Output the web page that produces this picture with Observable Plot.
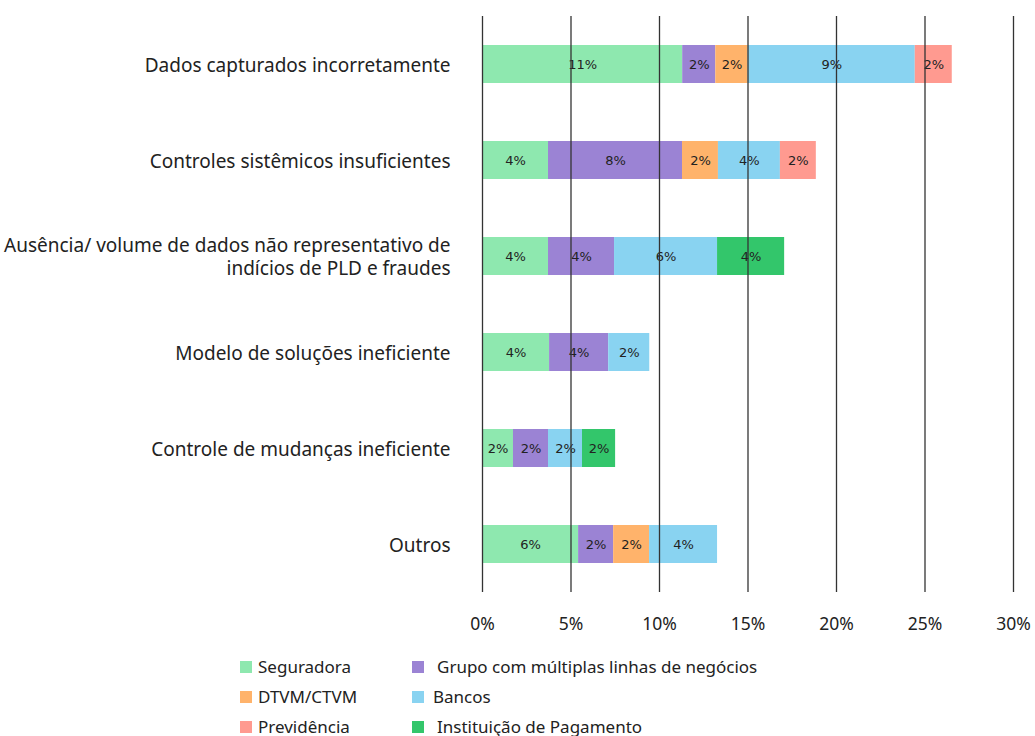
<!DOCTYPE html>
<html><head><meta charset="utf-8">
<script src="https://cdn.jsdelivr.net/npm/d3@7"></script>
<script src="https://cdn.jsdelivr.net/npm/@observablehq/plot@0.6"></script>
<style>
body{margin:0;background:#fff;font-family:"Noto Sans",sans-serif;}
#legend{position:relative;height:96px;width:1035px;}
.item{position:absolute;display:flex;align-items:center;font-size:17px;line-height:22px;color:#222;white-space:nowrap;}
.sw{width:12px;height:12px;margin-right:6px;flex:none;}
</style></head><body><div id="chart"></div><div id="legend"></div>
<script>
const categories = [
  "Dados capturados incorretamente",
  "Controles sistêmicos insuficientes",
  "Ausência/ volume de dados não representativo de\nindícios de PLD e fraudes",
  "Modelo de soluções ineficiente",
  "Controle de mudanças ineficiente",
  "Outros"
];
const series = ["Seguradora", "Grupo com múltiplas linhas de negócios", "DTVM/CTVM", "Bancos", "Previdência", "Instituição de Pagamento"];
const colors = ["#8EE8AF", "#9B83D4", "#FFB36B", "#89D3F1", "#FF9A90", "#33C66B"];

const seguradora  = [11.31, 3.73, 3.73, 3.79, 1.75, 5.43];
const grupo       = [1.87, 7.57, 3.73, 3.34, 1.98, 1.98];
const dtvm        = [1.83, 2.03, 0, 0, 0, 2.03];
const bancos      = [9.44, 3.50, 5.82, 2.32, 1.92, 3.84];
const previdencia = [2.09, 2.03, 0, 0, 0, 0];
const instPag     = [0, 0, 3.79, 0, 1.87, 0];

const seguradoraLabels  = ["11%", "4%", "4%", "4%", "2%", "6%"];
const grupoLabels       = ["2%", "8%", "4%", "4%", "2%", "2%"];
const dtvmLabels        = ["2%", "2%", "", "", "", "2%"];
const bancosLabels      = ["9%", "4%", "6%", "2%", "2%", "4%"];
const previdenciaLabels = ["2%", "2%", "", "", "", ""];
const instPagLabels     = ["", "", "4%", "", "2%", ""];

const xTicks = [0, 5, 10, 15, 20, 25, 30];
const xTickLabels = ["0%", "5%", "10%", "15%", "20%", "25%", "30%"];

const valueTable = [seguradora, grupo, dtvm, bancos, previdencia, instPag];
const labelTable = [seguradoraLabels, grupoLabels, dtvmLabels, bancosLabels, previdenciaLabels, instPagLabels];

const data = [];
categories.forEach((c, ci) => {
  series.forEach((s, si) => {
    const v = valueTable[si][ci];
    if (v > 0) data.push({category: c, series: s, value: v, label: labelTable[si][ci]});
  });
});

const chart = Plot.plot({
  width: 1035,
  height: 640,
  marginLeft: 482,
  marginRight: 22,
  marginTop: 16,
  marginBottom: 48,
  style: {fontFamily: "'Noto Sans', sans-serif", color: "#222", background: "#fff", overflow: "visible"},
  x: {domain: [0, 30], axis: null},
  y: {domain: categories, padding: 0.6, paddingOuter: 0.29, axis: null},
  color: {domain: series, range: colors},
  marks: [
    Plot.barX(data, Plot.stackX({x: "value", y: "category", fill: "series", order: series})),
    Plot.textX(data, Plot.stackX({x: "value", y: "category", z: "series", text: "label", order: series, fontSize: 13, fontFamily: "'DejaVu Sans', sans-serif", fill: "#222"})),
    Plot.ruleX(xTicks, {stroke: "#333", strokeWidth: 1.3}),
    Plot.axisX({ticks: xTicks, tickSize: 0, tickPadding: 25, fontSize: 17.5, label: null, tickFormat: d => xTickLabels[xTicks.indexOf(d)]}),
    Plot.axisY({tickSize: 0, tickPadding: 32, fontSize: 19, lineHeight: 1.21, label: null})
  ]
});
document.getElementById("chart").appendChild(chart);

const legend = document.getElementById("legend");
series.forEach((s, i) => {
  const col = i % 2, row = Math.floor(i / 2);
  const item = document.createElement("div");
  item.className = "item";
  item.style.left = (col ? 412 : 240) + "px";
  item.style.top = (16 + row * 30) + "px";
  const sw = document.createElement("span");
  sw.className = "sw";
  sw.style.background = colors[i];
  if (col) sw.style.marginRight = (s === "Bancos" ? "9px" : "13px");
  const t = document.createElement("span");
  t.textContent = s;
  item.appendChild(sw);
  item.appendChild(t);
  legend.appendChild(item);
});
</script>
</body></html>
